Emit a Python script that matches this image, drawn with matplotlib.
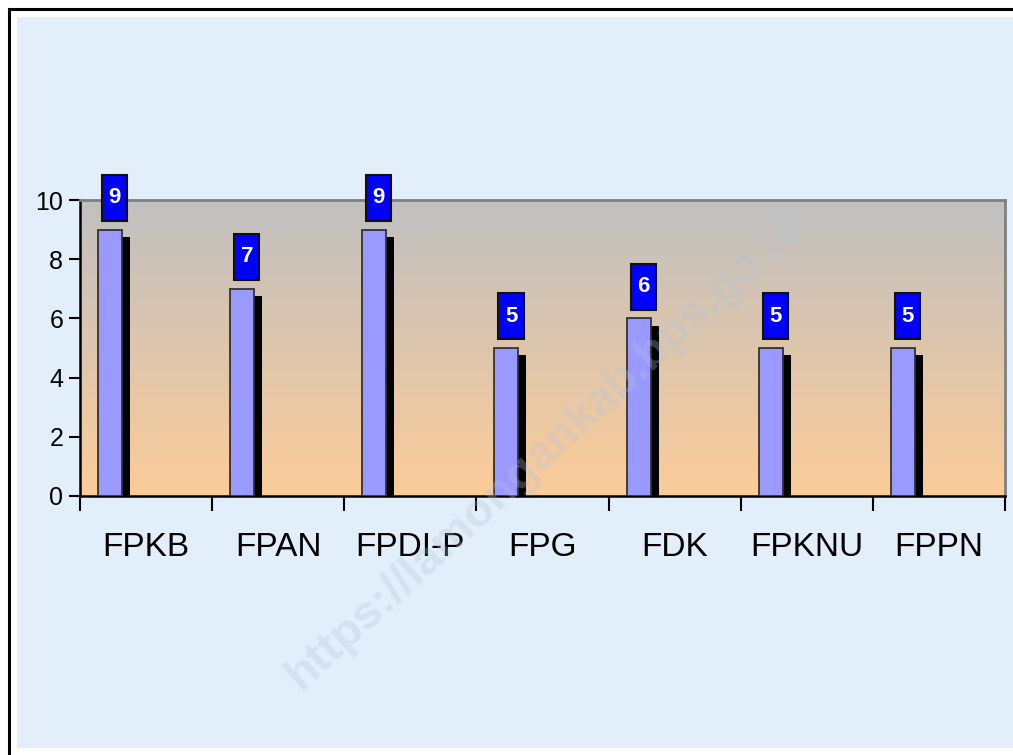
import numpy as np
import matplotlib
matplotlib.use("Agg")
import matplotlib.pyplot as plt
from matplotlib.patches import Rectangle
from matplotlib.lines import Line2D

categories = ["FPKB", "FPAN", "FPDI-P", "FPG", "FDK", "FPKNU", "FPPN"]
values = [9, 7, 9, 5, 6, 5, 5]
yticks = [0, 2, 4, 6, 8, 10]

plt.rcParams['font.family'] = ['Liberation Sans', 'DejaVu Sans']

W, H = 1013, 755
fig = plt.figure(figsize=(W / 100, H / 100), dpi=100)
fig.patch.set_facecolor("white")

# light blue page background and outer border
fig.patches.append(Rectangle((17 / W, 1 - 748 / H), (W - 17) / W, (748 - 17) / H,
                             transform=fig.transFigure, facecolor="#e2eefa",
                             edgecolor="none", zorder=0))
fig.lines.append(Line2D([8.5 / W, 8.5 / W], [0, 1 - 8.5 / H], transform=fig.transFigure,
                        color="black", lw=2.2))
fig.lines.append(Line2D([8.5 / W, 1], [1 - 8.5 / H, 1 - 8.5 / H], transform=fig.transFigure,
                        color="black", lw=2.2))

ax = fig.add_axes([80 / W, 1 - 496 / H, (1005 - 80) / W, (496 - 200) / H])
ax.set_xlim(0, len(categories))
ax.set_ylim(0, 10)
ax.set_zorder(2)

# gradient background of plot area
grad = np.linspace(0, 1, 256).reshape(-1, 1)
top = np.array([0.753, 0.753, 0.753])
bot = np.array([0.988, 0.800, 0.600])
img = top + (bot - top) * grad[:, :, None]
ax.imshow(img, extent=[0, len(categories), 0, 10], aspect="auto", origin="upper", zorder=0)

x = np.arange(len(categories)) + 0.5
bar_w = 0.182
off = -0.273
sh_drop = 0.25
sh_w = 0.06
for xi, v in zip(x, values):
    left = xi + off - bar_w / 2
    # shadow
    ax.add_patch(Rectangle((left + bar_w - 0.01, 0), sh_w + 0.01, v - sh_drop,
                           facecolor="black", edgecolor="none", zorder=2))
ax.bar(x + off, values, width=bar_w, color="#9999ff", edgecolor="#333333",
       linewidth=1.3, zorder=3)

# value labels in blue boxes
box_w = 0.19
box_h = 1.55
gap = 0.3
for xi, v in zip(x, values):
    cx = xi + off + 0.035
    ax.add_patch(Rectangle((cx - box_w / 2, v + gap), box_w, box_h, facecolor="#0000ff",
                           edgecolor="#111111", linewidth=1.5, zorder=4, clip_on=False))
    ax.text(cx, v + gap + box_h / 2, str(v), color="white", fontsize=16, fontweight="bold",
            ha="center", va="center", zorder=5, clip_on=False)

# spines
for s in ["top", "right"]:
    ax.spines[s].set_color("#808080")
    ax.spines[s].set_linewidth(2)
for s in ["left", "bottom"]:
    ax.spines[s].set_color("black")
    ax.spines[s].set_linewidth(1.8)

ax.set_yticks(yticks)
ax.set_yticklabels([str(t) for t in yticks])
ax.tick_params(axis="y", direction="out", length=8, width=1.5, labelsize=18, pad=4)

ax.set_xticks(np.arange(len(categories) + 1))
ax.set_xticklabels([])
ax.tick_params(axis="x", which="major", direction="out", length=11, width=1.5)
ax.set_xticks(x, minor=True)
ax.set_xticklabels(categories, minor=True)
ax.tick_params(axis="x", which="minor", length=0, labelsize=24, pad=26)

# faint watermark on top
wm = fig.text(0.538, 0.404, "https://lamongankab.bps.go.id", fontsize=34, fontweight="bold",
              color="#b4c4d8", alpha=0.3, rotation=42.5, ha="center", va="center")
wm.set_zorder(10)

fig.savefig("out.png", dpi=100)
